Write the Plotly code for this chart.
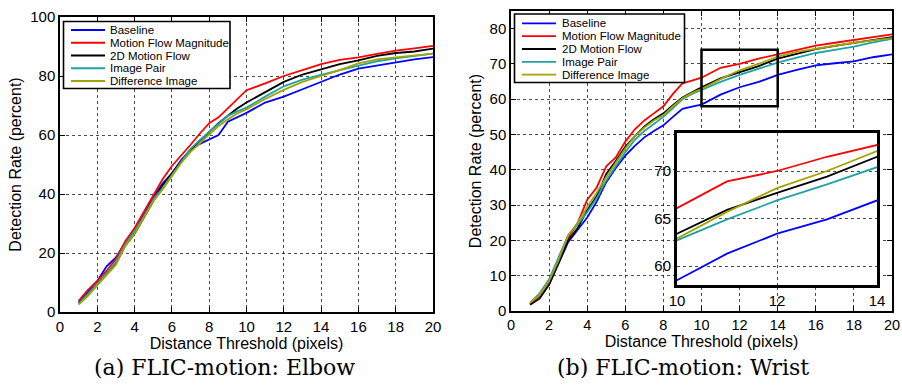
import plotly.graph_objects as go

# ---------------- data ----------------
x_vals = [1, 1.5, 2, 2.5, 3, 3.5, 4, 4.5, 5, 5.5, 6, 6.5, 7, 7.5, 8, 8.5, 9, 9.5, 10,
          11, 12, 13, 14, 15, 16, 17, 18, 19, 20]

series_names = ["Baseline", "Motion Flow Magnitude", "2D Motion Flow", "Image Pair", "Difference Image"]
series_colors = ["#0000FF", "#FF0000", "#000000", "#1FA3A3", "#A3A300"]

elbow_baseline = [3.2, 7, 10.5, 15.5, 18.5, 23.5, 28, 33, 39, 43.5, 47, 51.5, 55, 57, 58.5, 60, 64.5, 66, 67.5,
                  71, 73, 75.5, 78, 80.5, 82.5, 83.5, 84.7, 85.6, 86.4]
elbow_magnitude = [3.8, 7.5, 10.5, 14, 18, 24, 28.5, 34, 39.5, 45, 49.5, 53, 56.7, 60.5, 64, 66, 69, 72, 75.2,
                   77.5, 80, 82, 84, 85.5, 86.3, 87.5, 88.6, 89.4, 90.2]
elbow_2dflow = [3, 6, 9.5, 13, 16.5, 22.5, 26.5, 32, 37.5, 43, 47, 51, 55, 58, 61, 64, 66.5, 69, 71,
                74.5, 78, 80.5, 82.3, 84, 85.3, 86.8, 87.8, 88.3, 89.3]
elbow_pair = [2.8, 6, 9.5, 13, 17, 23, 27.5, 32.5, 38, 42, 46.5, 51, 55.3, 58.3, 61, 64, 66.5, 68, 69.3,
              73, 76.5, 78.8, 80.5, 82, 83.5, 85, 86, 86.8, 87.6]
elbow_diff = [2.5, 5.5, 9, 12.5, 16, 22.5, 26.5, 32, 37.5, 41.5, 46, 50.5, 54.3, 57.3, 60, 63, 65.3, 67.3, 68.7,
              72.2, 75.3, 78, 80, 82, 84.3, 85.6, 86.3, 87, 87.6]

wrist_baseline = [2, 4, 7.5, 13.5, 19.5, 23, 26.5, 31, 36.5, 40.5, 44, 46.8, 49.2, 51, 52.6, 55, 57.3, 57.9, 58.5,
                  61.3, 63.4, 64.9, 66.9, 68.3, 69.6, 70.2, 70.7, 71.9, 72.7]
wrist_magnitude = [2, 4, 8, 14, 20.5, 25, 31.5, 35, 41, 43.5, 48, 51.5, 54, 56, 58, 61.5, 64.5, 65.3, 66.1,
                   68.9, 70.0, 71.5, 72.8, 74, 75.2, 76, 76.8, 77.6, 78.4]
wrist_2dflow = [1.8, 3.5, 7.5, 13.5, 20, 23.5, 28.5, 32.5, 38.8, 42.5, 46.5, 49.5, 52.3, 54.3, 56, 58.3, 60.5, 62, 63.4,
                65.9, 67.7, 69.4, 71.5, 72.9, 74.2, 75.1, 76, 76.8, 77.6]
wrist_pair = [2.3, 5, 9, 15, 21.5, 24.5, 28, 32, 37, 41, 45, 48.5, 51, 53, 55, 57.5, 60, 61.5, 62.7,
              64.9, 66.9, 68.6, 70.4, 71.8, 73.1, 74, 74.9, 76.1, 77.1]
wrist_diff = [2.3, 4.5, 8.5, 14.5, 21.5, 25, 29.5, 33.5, 38, 42, 46, 49.5, 52, 54, 55.5, 58, 60.3, 61.8, 62.9,
              65.7, 68.2, 70.0, 72.1, 73.4, 74.3, 75.2, 76, 76.7, 77.3]

elbow_series = [elbow_baseline, elbow_magnitude, elbow_2dflow, elbow_pair, elbow_diff]
wrist_series = [wrist_baseline, wrist_magnitude, wrist_2dflow, wrist_pair, wrist_diff]

x_ticks = [0, 2, 4, 6, 8, 10, 12, 14, 16, 18, 20]
elbow_y_ticks = [0, 20, 40, 60, 80, 100]
wrist_y_ticks = [0, 10, 20, 30, 40, 50, 60, 70, 80]
inset_x_range = [10, 14]
inset_y_range = [58, 74]
inset_x_ticks = [10, 12, 14]
inset_y_ticks = [60, 65, 70]

x_title = "Distance Threshold (pixels)"
y_title = "Detection Rate (percent)"
captions = ["(a) FLIC-motion: Elbow", "(b) FLIC-motion: Wrist"]

# ---------------- layout helpers ----------------
W, H = 902, 386
def px(v):
    return v / W
def py(v):
    return 1 - v / H

SANS = "Arial"
SERIF = "DejaVu Serif"
LW = 1.8

fig = go.Figure()

for name, color, ys in zip(series_names, series_colors, elbow_series):
    fig.add_trace(go.Scatter(x=x_vals, y=ys, mode="lines", name=name,
                             line=dict(color=color, width=LW), showlegend=False,
                             xaxis="x", yaxis="y"))
for name, color, ys in zip(series_names, series_colors, wrist_series):
    fig.add_trace(go.Scatter(x=x_vals, y=ys, mode="lines", name=name,
                             line=dict(color=color, width=LW), showlegend=False,
                             xaxis="x2", yaxis="y2"))
for name, color, ys in zip(series_names, series_colors, wrist_series):
    fig.add_trace(go.Scatter(x=x_vals, y=ys, mode="lines", name=name,
                             line=dict(color=color, width=LW), showlegend=False,
                             xaxis="x3", yaxis="y3"))

grid = dict(showgrid=True, gridcolor="rgba(0,0,0,0.7)", griddash="dot", gridwidth=1)
tickfont = dict(family=SANS, size=15, color="black")
tickfont_r = dict(family=SANS, size=14.5, color="black")
titlefont = dict(family=SANS, size=16, color="black")
axcommon = dict(showline=True, linecolor="black", linewidth=1.5, mirror="allticks",
                ticks="inside", ticklen=5, tickcolor="black",
                zeroline=False, automargin=False, **grid)

fig.update_layout(
    width=W, height=H,
    margin=dict(l=0, r=0, t=0, b=0),
    paper_bgcolor="white", plot_bgcolor="white",
    showlegend=False,
    xaxis=dict(domain=[px(60), px(433)], range=[0, 20], tickvals=x_ticks, anchor="y",
               tickfont=tickfont, title=dict(text=x_title, font=titlefont, standoff=1),
               **axcommon),
    yaxis=dict(domain=[py(312), py(17)], range=[0, 100], tickvals=elbow_y_ticks, anchor="x",
               tickfont=tickfont, title=dict(text=y_title, font=titlefont, standoff=5),
               **axcommon),
    xaxis2=dict(domain=[px(511), px(892)], range=[0, 20], tickvals=x_ticks, anchor="y2",
                tickfont=tickfont_r, title=dict(text=x_title, font=titlefont, standoff=1),
                **axcommon),
    yaxis2=dict(domain=[py(311), py(11)], range=[0, 85], tickvals=wrist_y_ticks, anchor="x2",
                tickfont=tickfont, title=dict(text=y_title, font=titlefont, standoff=4),
                **axcommon),
    xaxis3=dict(domain=[px(677), px(877)], range=inset_x_range, tickvals=inset_x_ticks, anchor="y3",
                showline=True, linecolor="black", linewidth=3, mirror=True, ticks="",
                tickfont=tickfont, zeroline=False, automargin=False, **grid),
    yaxis3=dict(domain=[py(285), py(133)], range=inset_y_range, tickvals=inset_y_ticks, anchor="x3",
                showline=True, linecolor="black", linewidth=3, mirror=True, ticks="",
                tickfont=tickfont, zeroline=False, automargin=False, **grid),
)

shapes = []
annotations = []

# inset background and zoom rectangle on main axes
shapes.append(dict(type="rect", xref="x3 domain", yref="y3 domain", x0=0, x1=1, y0=0, y1=1,
                   fillcolor="white", line=dict(width=0), layer="below"))
shapes.append(dict(type="rect", xref="x2", yref="y2",
                   x0=inset_x_range[0], x1=inset_x_range[1], y0=inset_y_range[0], y1=inset_y_range[1],
                   line=dict(color="black", width=2.5), fillcolor="rgba(0,0,0,0)", layer="above"))

# legends (drawn as layout decorations)
def add_legend(box_l, box_t, box_r, box_b, first_y, step, line_l, line_r, text_l):
    shapes.append(dict(type="rect", xref="paper", yref="paper",
                       x0=px(box_l), x1=px(box_r), y0=py(box_b), y1=py(box_t),
                       fillcolor="white", line=dict(color="black", width=1.6), layer="above"))
    for i, (name, color) in enumerate(zip(series_names, series_colors)):
        yy = first_y + i * step
        shapes.append(dict(type="line", xref="paper", yref="paper",
                           x0=px(line_l), x1=px(line_r), y0=py(yy), y1=py(yy),
                           line=dict(color=color, width=LW), layer="above"))
        annotations.append(dict(text=name, xref="paper", yref="paper", x=px(text_l), y=py(yy),
                                xanchor="left", yanchor="middle", showarrow=False,
                                font=dict(family=SANS, size=11.5, color="black")))

add_legend(63.5, 21.5, 230, 88.5, 30, 12.75, 71, 105, 108)
add_legend(514.5, 14, 684.5, 82.5, 23.3, 12.85, 522, 556, 559.5)

# captions
annotations.append(dict(text=captions[0], xref="paper", yref="paper", x=px(224.5), y=py(367),
                        xanchor="center", yanchor="middle", showarrow=False,
                        font=dict(family=SERIF, size=22, color="black")))
annotations.append(dict(text=captions[1], xref="paper", yref="paper", x=px(683), y=py(367),
                        xanchor="center", yanchor="middle", showarrow=False,
                        font=dict(family=SERIF, size=22, color="black")))

fig.update_layout(shapes=shapes, annotations=annotations)

fig.write_html("out.html",
               config={"displayModeBar": False},
               post_script="document.body.style.margin='0';document.body.style.overflow='hidden';")
